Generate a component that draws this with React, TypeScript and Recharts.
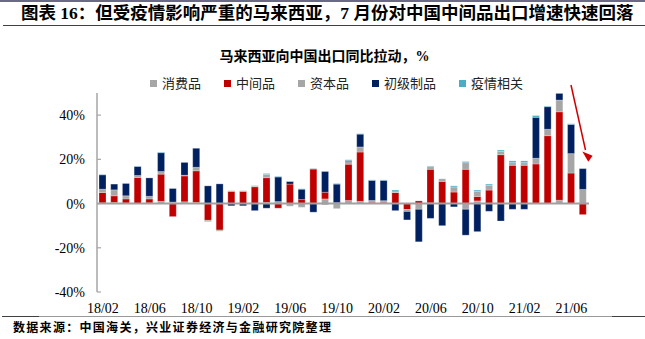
import React from "react";
import { BarChart, Bar, XAxis, YAxis, ReferenceLine } from "recharts";

const months = [
  "18/02", "18/03", "18/04", "18/05", "18/06", "18/07", "18/08", "18/09", "18/10", "18/11", "18/12",
  "19/01", "19/02", "19/03", "19/04", "19/05", "19/06", "19/07", "19/08", "19/09", "19/10", "19/11", "19/12",
  "20/01", "20/02", "20/03", "20/04", "20/05", "20/06", "20/07", "20/08", "20/09", "20/10", "20/11", "20/12",
  "21/01", "21/02", "21/03", "21/04", "21/05", "21/06", "21/07",
];

// 消费品
const consumer = [
  0.3, 0.5, 0.3, 0, 0.3, 1.0, 0.7, 0.8, 0.5, 0, 0,
  0, 0, 0, 0.5, 0.9, 0, 0, 0, 2.1, 0, 1.4, 1.0,
  0, 0, 0, 0, 0, 0.3, 0, 0, -2.6, 1.2, 0, 0,
  0, 0, 0, 0, 1.5, 0, 0,
];
// 中间品
const intermediate = [
  4.7, 3.0, 1.8, 11.8, 1.8, 12.3, -5.9, 11.7, 14.3, -7.6, -12.0,
  5.5, 5.5, 7.6, 11.2, -2.1, 8.8, 1.8, 15.6, 3.0, 0.4, 16.4, 22.3,
  0.6, 0.6, 5.0, -2.7, 1.2, 15.2, 10.0, 5.2, 15.5, 2.0, 6.1, 22.1,
  17.3, 17.3, 17.9, 30.7, 40.0, 13.8, -5.0,
];
// 资本品
const capital = [
  1.5, 2.7, 1.4, 0.9, 1.2, 1.2, 0, 0.3, 1.6, -0.6, -0.5,
  0.3, 0.3, 0.3, 1.5, 0, -1.2, -1.7, 0.3, -0.6, -2.3, 1.2, 2.3,
  0.8, 0.7, 0.3, -0.9, -2.6, 1.2, 1.2, 2.3, 3.0, 2.3, 2.1, 1.5,
  1.2, 1.2, 2.6, 2.9, 5.3, 8.8, 6.4,
];
// 初级制品
const primary = [
  6.5, 2.6, 5.6, 4.1, 8.3, 8.5, 6.1, 5.8, 8.6, 8.0, 8.9,
  -1.0, -1.0, -3.2, -2.1, 11.1, 1.2, 4.7, -3.9, 9.4, 8.4, 0.5, 5.8,
  9.1, 9.2, -3.2, -3.8, -14.7, -6.7, -10.0, -1.5, -11.7, -12.7, -3.5, -7.9,
  -2.6, -2.6, 18.5, 10.2, 3.0, 13.2, 9.4,
];
// 疫情相关
const epidemic = [
  0.2, 0, 0, 0.2, 0, 0.3, 0, 0, 0, 0, 0,
  0, 0, 0.2, 0.4, 0.3, 0.2, 0.2, 0, 0, 0.3, 0.3, 0.2,
  0.2, 0.2, 0.8, 0, 0, 0.3, 0, 0.5, 0.5, 0.6, 0.6, 0.6,
  0.8, 0.8, 0.8, 0.3, 0, 0.3, 0,
];

const yTicks = [-40, -20, 0, 20, 40];

const series = [
  { key: "consumer", name: "消费品", color: "#a6a6a6" },
  { key: "intermediate", name: "中间品", color: "#c00000" },
  { key: "capital", name: "资本品", color: "#a6a6a6" },
  { key: "primary", name: "初级制品", color: "#002060" },
  { key: "epidemic", name: "疫情相关", color: "#4bacc6" },
];

const data = months.map((month, i) => ({
  month,
  consumer: consumer[i],
  intermediate: intermediate[i],
  capital: capital[i],
  primary: primary[i],
  epidemic: epidemic[i],
}));

const serif = '"Liberation Serif", "Noto Sans CJK SC", serif';
const cjk = '"Liberation Serif", "Noto Sans CJK SC", sans-serif';

export default function App() {
  return (
    <div
      style={{
        position: "absolute",
        left: 0,
        top: 0,
        width: 645,
        height: 339,
        background: "#fff",
        overflow: "hidden",
        fontFamily: cjk,
      }}
    >
      <div style={{ position: "absolute", left: 0, top: 0, width: 645, height: 1.5, background: "#6b6a86" }} />
      <div
        style={{
          position: "absolute",
          left: 21,
          top: 2,
          fontSize: 17.5,
          fontWeight: "bold",
          whiteSpace: "nowrap",
          lineHeight: "22px",
          color: "#000",
        }}
      >
        图表 16：但受疫情影响严重的马来西亚，7 月份对中国中间品出口增速快速回落
      </div>
      <div style={{ position: "absolute", left: 3, top: 24.5, width: 642, height: 1.5, background: "#404040" }} />

      <div
        style={{
          position: "absolute",
          left: 0,
          width: 645,
          top: 47,
          textAlign: "center",
          paddingLeft: 2,
          fontSize: 14,
          fontWeight: "bold",
          lineHeight: "20px",
        }}
      >
        马来西亚向中国出口同比拉动，%
      </div>

      <div
        style={{
          position: "absolute",
          left: 150,
          top: 74,
          display: "flex",
          gap: 23,
          fontSize: 13,
          lineHeight: "18px",
          fontFamily: '"Noto Sans CJK SC", sans-serif',
          color: "#222",
        }}
      >
        {series.map((s) => (
          <div key={s.key} style={{ display: "flex", alignItems: "center" }}>
            <span style={{ width: 7, height: 7, background: s.color, marginRight: 5, display: "inline-block" }} />
            <span>{s.name}</span>
          </div>
        ))}
      </div>

      <div style={{ position: "absolute", left: 0, top: 0 }}>
        <BarChart
          width={645}
          height={339}
          data={data}
          stackOffset="sign"
          margin={{ top: 93, right: 56, bottom: 27, left: 0 }}
        >
          <XAxis
            dataKey="month"
            interval={3}
            axisLine={false}
            tickLine={false}
            tickSize={0}
            tickMargin={11}
            height={20}
            tick={{ fontSize: 14, fill: "#000", fontFamily: serif }}
          />
          <YAxis
            width={97}
            domain={[-40, 50]}
            ticks={yTicks}
            allowDataOverflow
            tickFormatter={(v: number) => `${v}%`}
            axisLine={{ stroke: "#a6a6a6", strokeWidth: 1.5 }}
            tickLine={{ stroke: "#a6a6a6", strokeWidth: 1.2 }}
            tickSize={-4}
            tickMargin={16}
            tick={{ fontSize: 14, fill: "#000", fontFamily: serif }}
          />
          {series.map((s) => (
            <Bar
              key={s.key}
              dataKey={s.key}
              name={s.name}
              stackId="a"
              fill={s.color}
              barSize={7}
              stroke="#ffffff"
              strokeOpacity={0.5}
              strokeWidth={0.5}
              isAnimationActive={false}
            />
          ))}
          <ReferenceLine y={0} stroke="#a0a0a0" strokeWidth={2} />
        </BarChart>
      </div>

      <svg
        width={645}
        height={339}
        style={{ position: "absolute", left: 0, top: 0, pointerEvents: "none" }}
      >
        <line x1={571} y1={85} x2={585.5} y2={150} stroke="#d00000" strokeWidth={1.5} />
        <polygon points="588.3,161.7 582.3,151.4 592.6,155.8" fill="#d00000" />
      </svg>

      <div style={{ position: "absolute", left: 2, top: 316, width: 643, height: 1.2, background: "#9a9a9a" }} />
      <div style={{ position: "absolute", left: 2, top: 316, width: 37, height: 1.2, background: "#404040" }} />
      <div style={{ position: "absolute", left: 612, top: 316, width: 33, height: 1.2, background: "#404040" }} />

      <div
        style={{
          position: "absolute",
          left: 13,
          top: 319,
          fontSize: 12,
          fontWeight: "bold",
          letterSpacing: 1.3,
          lineHeight: "16px",
          whiteSpace: "nowrap",
          color: "#000",
          fontFamily: '"Noto Sans CJK SC", sans-serif',
        }}
      >
        数据来源：中国海关，兴业证券经济与金融研究院整理
      </div>
    </div>
  );
}
